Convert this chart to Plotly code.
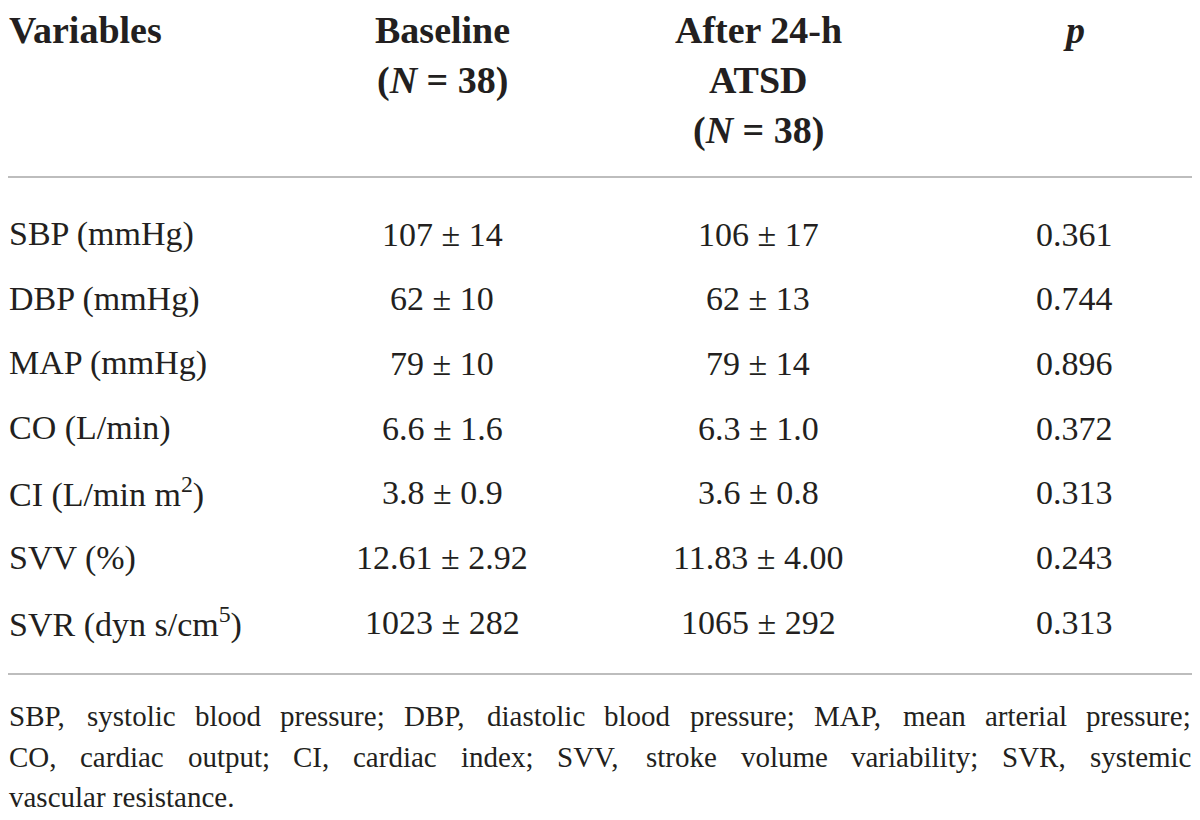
import plotly.graph_objects as go

# table content
variables = ["SBP (mmHg)", "DBP (mmHg)", "MAP (mmHg)", "CO (L/min)",
             "CI (L/min m<sup>2</sup>)", "SVV (%)", "SVR (dyn s/cm<sup>5</sup>)"]
baseline = ["107 ± 14", "62 ± 10", "79 ± 10", "6.6 ± 1.6", "3.8 ± 0.9",
            "12.61 ± 2.92", "1023 ± 282"]
after_atsd = ["106 ± 17", "62 ± 13", "79 ± 14", "6.3 ± 1.0", "3.6 ± 0.8",
              "11.83 ± 4.00", "1065 ± 292"]
p_values = [0.361, 0.744, 0.896, 0.372, 0.313, 0.243, 0.313]

header_variables = ["Variables"]
header_baseline = ["Baseline", "(<i>N</i> = 38)"]
header_after = ["After 24-h", "ATSD", "(<i>N</i> = 38)"]
header_p = ["<i>p</i>"]

footnote = [
    "SBP, systolic blood pressure; DBP, diastolic blood pressure; MAP, mean arterial pressure;",
    "CO, cardiac output; CI, cardiac index; SVV, stroke volume variability; SVR, systemic",
    "vascular resistance.",
]

# --- layout, in page pixels (the page body keeps an 8px margin all round)
PAGE_OFF = 8
PAGE_W, PAGE_H = 1200, 820
FONT = "Liberation Serif"
INK = "#231f20"
col_x = {"var": 8, "base": 442, "after": 758, "p": 1074}
head_top, head_dy = 8, 50
row_y0, row_dy = 234, 64.7
foot_y0, foot_dy = 716, 40.5
foot_left, foot_right = 8, 1190
head_size, body_size, foot_size = 38, 34, 29

# Times / Liberation Serif advance widths (1/1000 em), for justifying the note
W = {" ": 250, ",": 250, ";": 278, ".": 250, "a": 444, "b": 500, "c": 444, "d": 500,
     "e": 444, "f": 333, "g": 500, "h": 500, "i": 278, "j": 278, "k": 500, "l": 278,
     "m": 778, "n": 500, "o": 500, "p": 500, "q": 500, "r": 333, "s": 389, "t": 278,
     "u": 500, "v": 500, "w": 722, "x": 500, "y": 500, "z": 444, "A": 722, "B": 667,
     "C": 667, "D": 722, "I": 333, "M": 889, "O": 722, "P": 556, "R": 667, "S": 556,
     "V": 722}


def text_width(s, size):
    return sum(W.get(ch, 500) for ch in s) * size / 1000


fig = go.Figure()
ann = []


def add(text, x, y, anchor="center", size=body_size, bold=False, yanchor="middle"):
    if bold:
        text = "<b>" + text + "</b>"
    ann.append(dict(text=text, x=x, y=y, xref="x", yref="y", xanchor=anchor,
                    yanchor=yanchor, showarrow=False, borderpad=0,
                    font=dict(family=FONT, size=size, color=INK)))


# header (top anchored so nothing is clipped at the top edge)
for col, lines, anchor in [("var", header_variables, "left"),
                           ("base", header_baseline, "center"),
                           ("after", header_after, "center"),
                           ("p", header_p, "center")]:
    for i, t in enumerate(lines):
        add(t, col_x[col], head_top + i * head_dy, anchor=anchor,
            size=head_size, bold=True, yanchor="top")

for i in range(len(variables)):
    y = row_y0 + i * row_dy
    add(variables[i], col_x["var"], y, anchor="left")
    add(baseline[i], col_x["base"], y)
    add(after_atsd[i], col_x["after"], y)
    add(f"{p_values[i]:.3f}", col_x["p"], y)

# footnote: justified like the printed table, last line left aligned
for i, line in enumerate(footnote):
    y = foot_y0 + i * foot_dy
    if i == len(footnote) - 1:
        add(line, foot_left, y, anchor="left", size=foot_size)
        continue
    words = line.split(" ")
    widths = [text_width(w, foot_size) for w in words]
    gap = (foot_right - foot_left - sum(widths)) / (len(words) - 1)
    x = foot_left
    for w, wd in zip(words, widths):
        add(w, x, y, anchor="left", size=foot_size)
        x += wd + gap

# invisible trace to hold the axes
fig.add_trace(go.Scatter(x=[PAGE_OFF, PAGE_W - PAGE_OFF], y=[PAGE_OFF, PAGE_H - PAGE_OFF],
                         mode="markers", marker=dict(opacity=0),
                         hoverinfo="skip", showlegend=False))

line_style = dict(color="#bdbdbd", width=2)
for ly in (177, 674):
    fig.add_shape(type="line", x0=PAGE_OFF, x1=PAGE_W - PAGE_OFF, y0=ly, y1=ly,
                  xref="x", yref="y", line=line_style)

fig.update_layout(
    width=PAGE_W - 2 * PAGE_OFF, height=PAGE_H - 2 * PAGE_OFF,
    margin=dict(l=0, r=0, t=0, b=0),
    paper_bgcolor="white", plot_bgcolor="white",
    annotations=ann,
    xaxis=dict(range=[PAGE_OFF, PAGE_W - PAGE_OFF], visible=False, fixedrange=True),
    yaxis=dict(range=[PAGE_H - PAGE_OFF, PAGE_OFF], visible=False, fixedrange=True),
)

fig.write_html("out.html")
